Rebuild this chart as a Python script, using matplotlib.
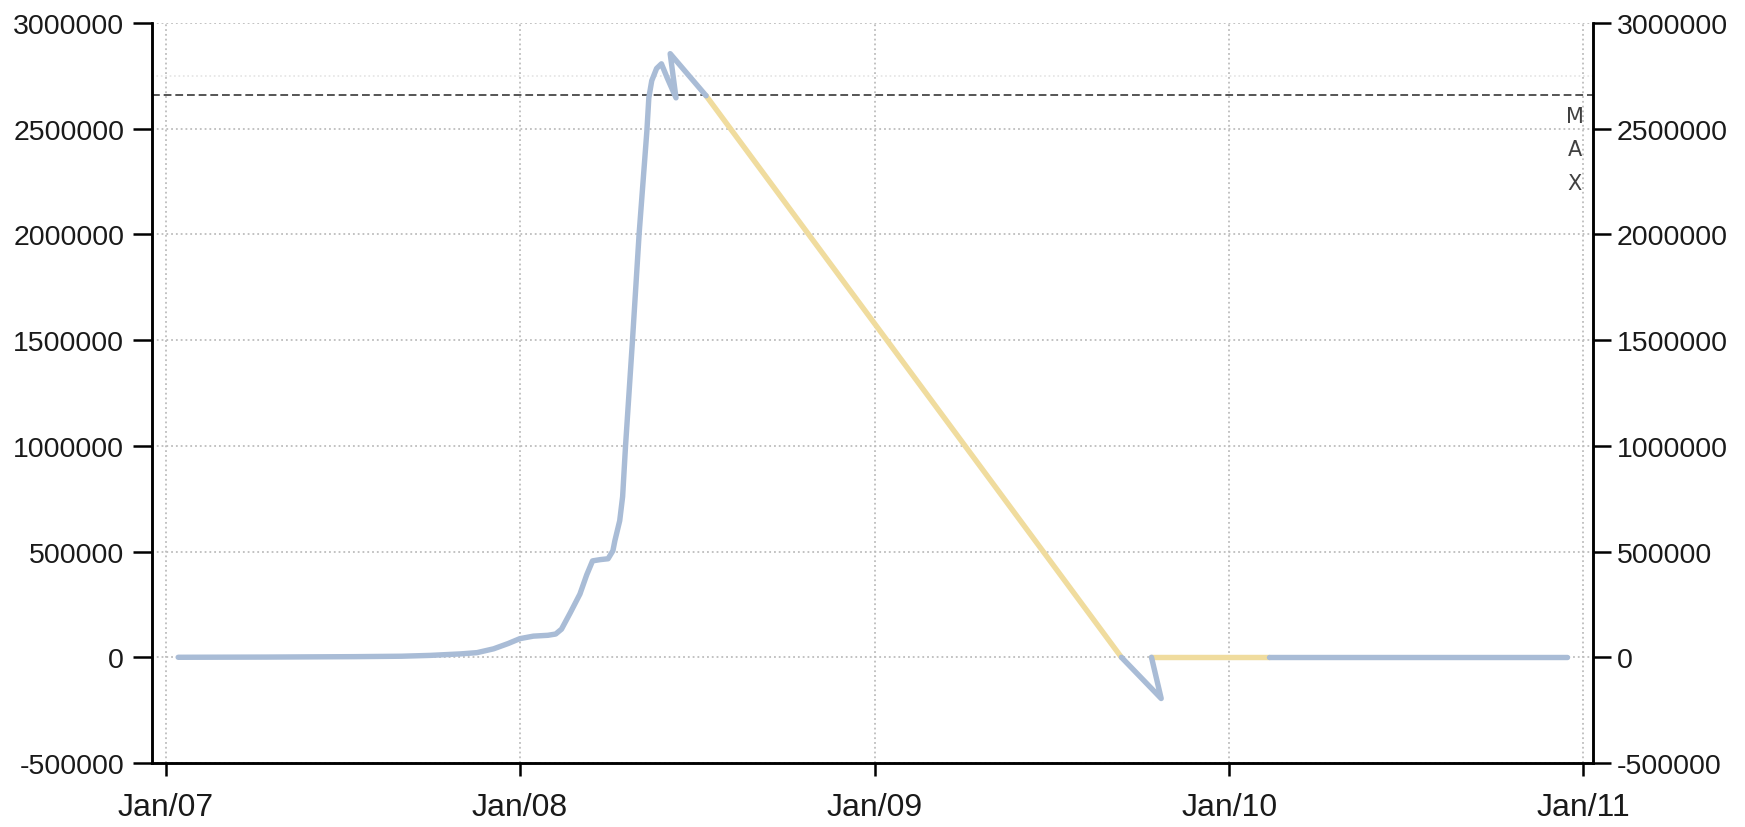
import matplotlib
matplotlib.use("Agg")
import matplotlib.pyplot as plt
import matplotlib.dates as mdates
from matplotlib.ticker import FixedLocator, FuncFormatter
import pandas as pd

plt.rcParams['font.family'] = ['Liberation Sans', 'DejaVu Sans']

# recorded data, three runs separated by gaps
run1_dates = ['2007-01-14', '2007-04-15', '2007-07-15', '2007-09-01', '2007-10-01',
              '2007-11-01', '2007-11-18', '2007-12-05', '2007-12-20', '2008-01-01',
              '2008-01-15', '2008-01-30', '2008-02-07', '2008-02-13', '2008-02-22',
              '2008-03-03', '2008-03-10', '2008-03-16', '2008-03-24', '2008-04-01',
              '2008-04-06', '2008-04-08', '2008-04-13', '2008-04-16', '2008-04-19',
              '2008-04-26', '2008-05-03', '2008-05-11', '2008-05-13', '2008-05-16',
              '2008-05-21', '2008-05-26', '2008-06-01', '2008-06-10', '2008-06-04',
              '2008-07-11']
run1_values = [0, 1000, 3000, 5000, 9000,
               16000, 22000, 40000, 65000, 88000,
               100000, 104000, 110000, 133000, 210000,
               299000, 390000, 456000, 462000, 466000,
               504000, 551000, 646000, 760000, 1000000,
               1488000, 2003000, 2490000, 2646000, 2727000,
               2785000, 2807000, 2740000, 2646000, 2855000,
               2656000]

run2_dates = ['2009-09-12', '2009-10-23', '2009-10-13']
run2_values = [0, -195000, 0]

run3_dates = ['2010-02-11', '2010-06-01', '2010-12-15']
run3_values = [0, 0, 0]

max_level = 2660000
upper_ref = 2750000

y_ticks = [-500000, 0, 500000, 1000000, 1500000, 2000000, 2500000, 3000000]
x_ticks = ['2007-01-01', '2008-01-01', '2009-01-01', '2010-01-01', '2011-01-01']

blue = '#a9bcd6'
yellow = '#f0dc9e'

runs = [(pd.to_datetime(d), v) for d, v in
        [(run1_dates, run1_values), (run2_dates, run2_values), (run3_dates, run3_values)]]

fig = plt.figure(figsize=(17.45, 8.28), dpi=100)
ax = fig.add_axes([0.0871, 0.0773, 0.8258, 0.8937])

# gap lines join the end of one run to the start of the next
for (d0, v0), (d1, v1) in zip(runs[:-1], runs[1:]):
    ax.plot([d0[-1], d1[0]], [v0[-1], v1[0]], color=yellow, lw=3.9,
            solid_capstyle='round', zorder=3)
for d, v in runs:
    ax.plot(d, v, color=blue, lw=3.9, solid_joinstyle='round',
            solid_capstyle='round', zorder=4)

ax.axhline(upper_ref, color='#e4e4e4', lw=1.2, ls=':', zorder=1)
ax.axhline(max_level, color='#555555', lw=1.4, ls=(0, (4, 2)), zorder=2)
ax.text(0.9875, 0.888, 'M\nA\nX', transform=ax.transAxes, ha='center', va='top',
        fontsize=15, linespacing=1.85, color='#404040', family=['DejaVu Sans'])

ax.set_xlim(pd.Timestamp('2006-12-18'), pd.Timestamp('2011-01-11'))
ax.set_ylim(-500000, 3000000)

ax.xaxis.set_major_locator(FixedLocator(mdates.date2num(pd.to_datetime(x_ticks))))
ax.xaxis.set_major_formatter(mdates.DateFormatter('%b/%y'))
ax.yaxis.set_major_locator(FixedLocator(y_ticks))
fmt = FuncFormatter(lambda v, p: f'{int(v)}')
ax.yaxis.set_major_formatter(fmt)

ax.grid(True, color='#bdbdbd', ls=':', lw=1.3, zorder=0)

ax2 = ax.twinx()
ax2.set_ylim(ax.get_ylim())
ax2.yaxis.set_major_locator(FixedLocator(y_ticks))
ax2.yaxis.set_major_formatter(fmt)

for a in (ax, ax2):
    a.spines['top'].set_visible(False)
    for s in ('left', 'right', 'bottom'):
        a.spines[s].set_linewidth(1.8)
        a.spines[s].set_color('black')

ax.tick_params(axis='y', direction='out', length=14, width=1.8, labelsize=20.5, pad=6,
               labelcolor='#1a1a1a')
ax2.tick_params(axis='y', direction='out', length=13, width=1.8, labelsize=20.5, pad=4,
                labelcolor='#1a1a1a')
ax.tick_params(axis='x', direction='out', length=9, width=1.8, labelsize=23, pad=12,
               labelcolor='#1a1a1a')

fig.savefig('out.png', dpi=100)
